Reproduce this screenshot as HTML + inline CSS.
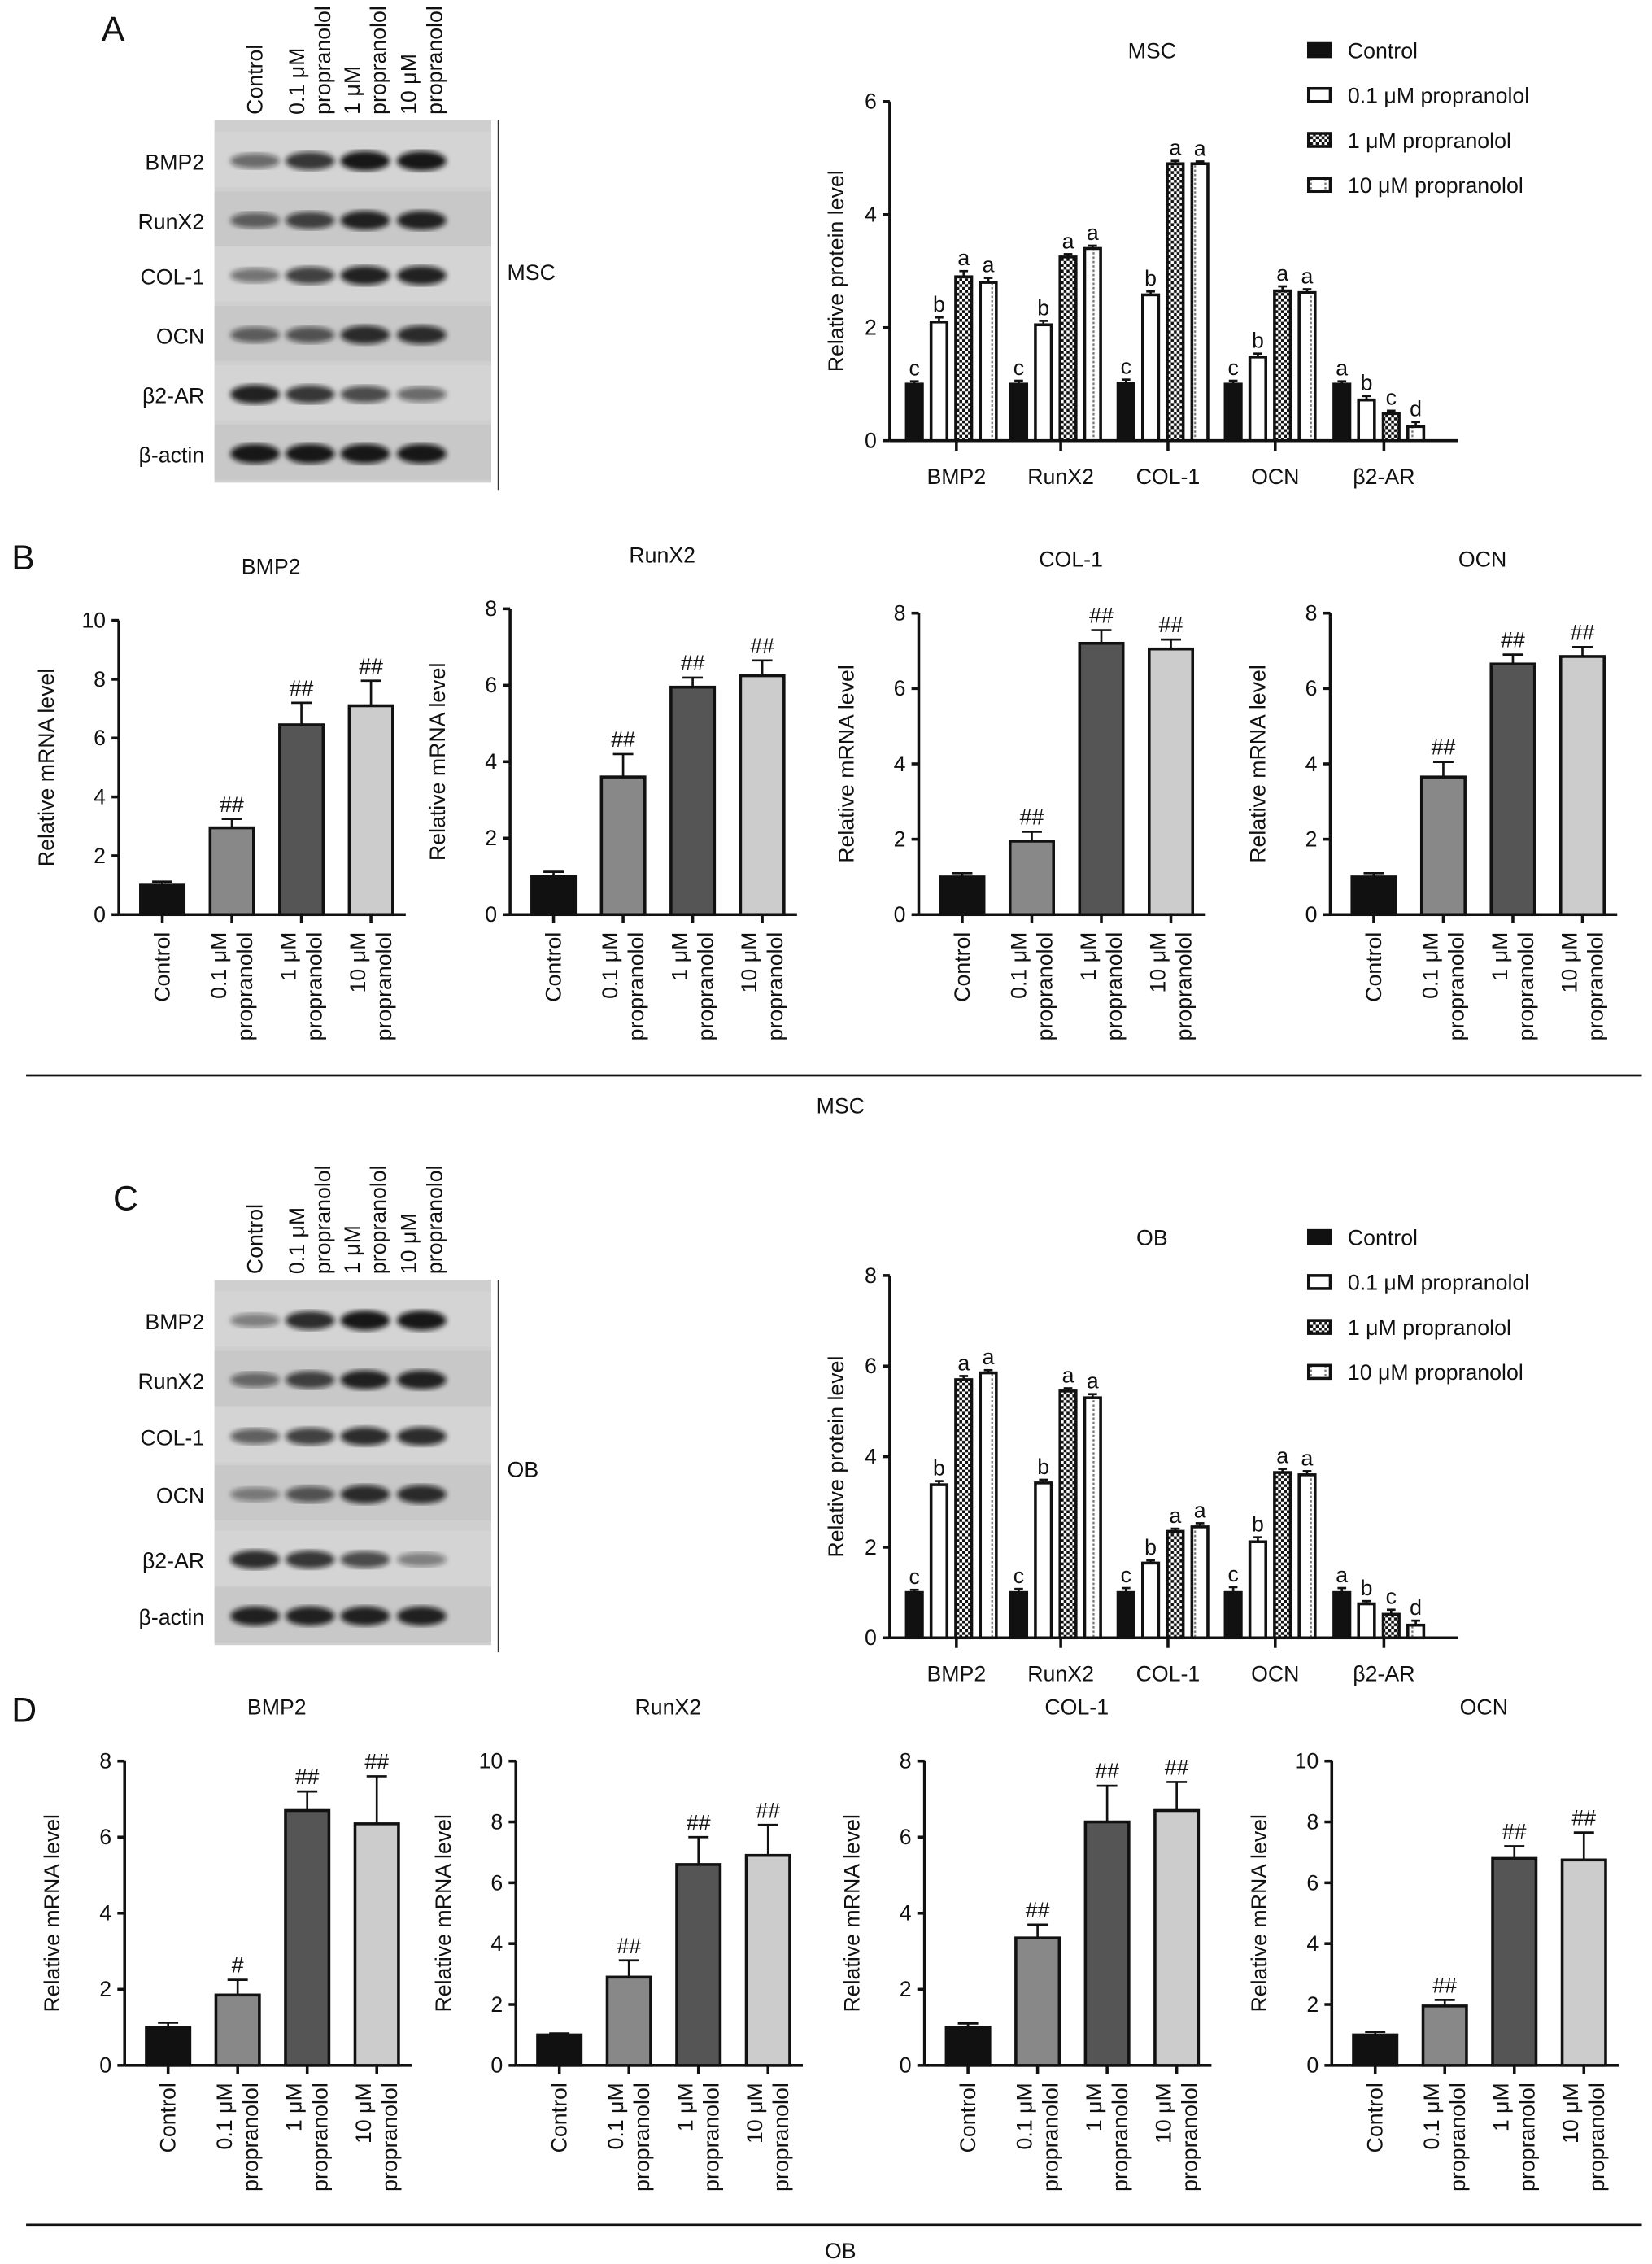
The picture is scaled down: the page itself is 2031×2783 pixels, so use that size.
<!DOCTYPE html>
<html><head><meta charset="utf-8"><style>
html,body{margin:0;padding:0;background:#fff}
svg{display:block;font-family:"Liberation Sans",Arial,sans-serif}
</style></head><body>
<svg id="fig" width="2031" height="2783" viewBox="0 0 1140 1562" xmlns="http://www.w3.org/2000/svg">
<defs>
<pattern id="chk" width="4" height="4" patternUnits="userSpaceOnUse"><rect width="4" height="4" fill="#111"/><rect width="2" height="2" fill="#fff"/><rect x="2" y="2" width="2" height="2" fill="#fff"/></pattern>
<pattern id="dot" width="10" height="3" patternUnits="userSpaceOnUse"><rect width="10" height="3" fill="#fff"/><rect x="4" y="0" width="1.3" height="1.5" fill="#777"/></pattern>
<filter id="blur"><feGaussianBlur stdDeviation="1.8"/></filter>
</defs>
<g id="root"></g>
</svg>
<script>
const NS="http://www.w3.org/2000/svg";
const groups=["BMP2","RunX2","COL-1","OCN","β2-AR"];
const conds=["Control","0.1 μM propranolol","1 μM propranolol","10 μM propranolol"];
const mscProtein=[[1,2.1,2.9,2.8],[1,2.05,3.25,3.4],[1.02,2.58,4.9,4.9],[1,1.48,2.65,2.62],[1,0.72,0.48,0.25]];
const mscProteinErr=[[0.05,0.08,0.1,0.08],[0.06,0.07,0.05,0.05],[0.06,0.06,0.05,0.04],[0.06,0.06,0.08,0.06],[0.05,0.07,0.05,0.08]];
const mscLetters=[["c","b","a","a"],["c","b","a","a"],["c","b","a","a"],["c","b","a","a"],["a","b","c","d"]];
const obProtein=[[1,3.38,5.7,5.85],[1,3.42,5.45,5.3],[1,1.65,2.35,2.45],[1,2.12,3.65,3.6],[1,0.75,0.52,0.28]];
const obProteinErr=[[0.06,0.08,0.08,0.06],[0.08,0.07,0.06,0.08],[0.1,0.06,0.06,0.08],[0.12,0.1,0.08,0.08],[0.1,0.06,0.1,0.1]];
const obLetters=[["c","b","a","a"],["c","b","a","a"],["c","b","a","a"],["c","b","a","a"],["a","b","c","d"]];
const mrnaGenes=["BMP2","RunX2","COL-1","OCN"];
const mscMrna=[[1,2.95,6.45,7.1],[1,3.6,5.95,6.25],[1,1.95,7.2,7.05],[1,3.65,6.65,6.85]];
const mscMrnaErr=[[0.12,0.3,0.75,0.85],[0.12,0.6,0.25,0.4],[0.1,0.25,0.35,0.25],[0.1,0.4,0.25,0.25]];
const mscMrnaMax=[10,8,8,8];
const mscSig=[["","##","##","##"],["","##","##","##"],["","##","##","##"],["","##","##","##"]];
const obMrna=[[1,1.85,6.7,6.35],[1,2.9,6.6,6.9],[1,3.35,6.4,6.7],[1,1.95,6.8,6.75]];
const obMrnaErr=[[0.12,0.4,0.5,1.25],[0.05,0.55,0.9,1.0],[0.1,0.35,0.95,0.75],[0.1,0.2,0.4,0.9]];
const obMrnaMax=[8,10,8,10];
const obSig=[["","#","##","##"],["","##","##","##"],["","##","##","##"],["","##","##","##"]];
const blotRows=["BMP2","RunX2","COL-1","OCN","β2-AR","β-actin"];
const mscBand=[[0.55,0.8,0.95,0.95],[0.6,0.75,0.9,0.9],[0.5,0.75,0.9,0.9],[0.6,0.65,0.85,0.85],[0.9,0.8,0.7,0.55],[0.95,0.95,0.95,0.95]];
const obBand=[[0.45,0.85,0.95,0.95],[0.55,0.75,0.9,0.9],[0.6,0.75,0.85,0.85],[0.45,0.65,0.85,0.85],[0.85,0.8,0.7,0.45],[0.9,0.9,0.9,0.9]];

const root=document.getElementById('root');
function el(tag,attrs,parent,txt){const e=document.createElementNS(NS,tag);for(const k in attrs)e.setAttribute(k,attrs[k]);if(txt!==undefined)e.textContent=txt;(parent||root).appendChild(e);return e;}
function txt(x,y,s,size,parent,anchor,rot){const a={x:x,y:y,'font-size':size,'text-anchor':anchor||'middle',fill:'#111'};if(rot)a.transform=`rotate(${rot} ${x} ${y})`;return el('text',a,parent,s);}

[["A",70,28],["B",8,393],["C",78,835],["D",8,1188]].forEach(p=>{const t=txt(p[1],p[2],p[0],24,root,'start');});

const fills=["#111","#fff","url(#chk)","url(#dot)"];
function proteinChart(name,title,x0,y0,yTop,maxV,vals,errs,letters,legY){
  const g=el('g',{},root);
  
  
  const y=v=>y0-(v/maxV)*(y0-yTop);
  const groupX=[660,732,806,880,955];
  const off=[-29,-12,5,22];
  el('line',{x1:x0,y1:yTop,x2:x0,y2:y0,stroke:'#111','stroke-width':2},g);
  el('line',{x1:x0,y1:y0,x2:1006,y2:y0,stroke:'#111','stroke-width':2},g);
  for(let v=0;v<=maxV;v+=2){el('line',{x1:x0-5,y1:y(v),x2:x0,y2:y(v),stroke:'#111','stroke-width':2},g);txt(x0-9,y(v)+5,String(v),15,g,'end');}
  const yl=txt(582,(y0+yTop)/2,"Relative protein level",15,g,'middle',-90);
  
  groups.forEach((gn,i)=>{
    el('line',{x1:groupX[i],y1:y0,x2:groupX[i],y2:y0+7,stroke:'#111','stroke-width':2},g);
    txt(groupX[i],y0+30,gn,15,g);
    vals[i].forEach((v,j)=>{
      const cx=groupX[i]+off[j];
      const r=el('rect',{x:cx-5.5,y:y(v),width:11,height:y0-y(v),fill:fills[j],stroke:'#111','stroke-width':2},g);
      
      
      const ey=y(v+errs[i][j]);
      el('line',{x1:cx,y1:y(v),x2:cx,y2:ey,stroke:'#111','stroke-width':1.5},g);
      el('line',{x1:cx-3,y1:ey,x2:cx+3,y2:ey,stroke:'#111','stroke-width':1.5},g);
      txt(cx,ey-4,letters[i][j],15,g);
    });
  });
  const tt=txt(795,legY-2,title,15,g);
  
  conds.forEach((c,j)=>{
    const ly=legY+j*31;
    const lr=el('rect',{x:903,y:ly-12,width:15,height:9,fill:fills[j],stroke:'#111','stroke-width':2},g);
    
    
    const lt=txt(930,ly-2,c,15,g,'start');
    
    
  });
}
proteinChart('msc-protein-chart','MSC',614,304,70,6,mscProtein,mscProteinErr,mscLetters,42);
proteinChart('ob-protein-chart','OB',614,1130,880,8,obProtein,obProteinErr,obLetters,861);

const mfills=["#111","#888","#555","#ccc"];
const xlab=[["Control"],["0.1 μM","propranolol"],["1 μM","propranolol"],["10 μM","propranolol"]];
function mrnaChart(name,title,x0,y0,yTop,maxV,vals,errs,sig){
  const g=el('g',{},root);
  
  
  const y=v=>y0-(v/maxV)*(y0-yTop);
  const bx=[x0+30,x0+78,x0+126,x0+174];
  el('line',{x1:x0,y1:yTop,x2:x0,y2:y0,stroke:'#111','stroke-width':2},g);
  el('line',{x1:x0,y1:y0,x2:x0+198,y2:y0,stroke:'#111','stroke-width':2},g);
  for(let v=0;v<=maxV;v+=2){el('line',{x1:x0-5,y1:y(v),x2:x0,y2:y(v),stroke:'#111','stroke-width':2},g);txt(x0-9,y(v)+5,String(v),15,g,'end');}
  const yl=txt(x0-45,(y0+yTop)/2,"Relative mRNA level",15,g,'middle',-90);
  
  const tt=txt(x0+105,yTop-32,title,15,g);
  
  vals.forEach((v,j)=>{
    const cx=bx[j];
    const r=el('rect',{x:cx-15,y:y(v),width:30,height:y0-y(v),fill:mfills[j],stroke:'#111','stroke-width':2},g);
    
    
    const ey=y(v+errs[j]);
    el('line',{x1:cx,y1:y(v),x2:cx,y2:ey,stroke:'#111','stroke-width':1.5},g);
    el('line',{x1:cx-7,y1:ey,x2:cx+7,y2:ey,stroke:'#111','stroke-width':1.5},g);
    if(sig[j])txt(cx,ey-5,sig[j],15,g);
    el('line',{x1:cx,y1:y0,x2:cx,y2:y0+6,stroke:'#111','stroke-width':2},g);
    xlab[j].forEach((s,k)=>{const lx=cx+5+(k-(xlab[j].length-1)/2)*18;txt(lx,y0+12,s,15,g,'end',-90);});
  });
}
const mscX=[82,352,634,918],mscTop=[428,420,423,423];
mrnaGenes.forEach((gn,i)=>mrnaChart('msc-mrna-'+gn,gn,mscX[i],631,mscTop[i],mscMrnaMax[i],mscMrna[i],mscMrnaErr[i],mscSig[i]));
const obX=[86,356,638,919];
mrnaGenes.forEach((gn,i)=>mrnaChart('ob-mrna-'+gn,gn,obX[i],1425,1215,obMrnaMax[i],obMrna[i],obMrnaErr[i],obSig[i]));

[[742,'MSC',768],[1535,'OB',1558]].forEach(a=>{
  const l=el('line',{x1:18,y1:a[0],x2:1133,y2:a[0],stroke:'#111','stroke-width':1.5});
  
  
  const t=txt(580,a[2],a[1],15);
  
  
});

function blot(name,label,yStart,rowH,rowYs,band,labelY){
  const g=el('g',{},root);
  
  
  const lanes=[176,214,252,291];
  const top=rowYs[0]-rowH/2-8,bot=rowYs[5]+rowH/2;
  el('rect',{x:148,y:top,width:191,height:bot-top,fill:'#cfcfcf'},g);
  rowYs.forEach((ry,i)=>{
    el('rect',{x:148,y:ry-rowH/2,width:191,height:rowH-2,fill:i%2?'#c8c8c8':'#d4d4d4'},g);
    txt(141,ry+6,blotRows[i],15,g,'end');
    band[i].forEach((b,j)=>{
      const e=el('ellipse',{cx:lanes[j],cy:ry,rx:17,ry:3+b*4,fill:'#111','fill-opacity':b,filter:'url(#blur)'},g);
      
    });
  });
  xlab.forEach((s,j)=>s.forEach((t,k)=>{const lx=lanes[j]+5+(k-(s.length-1)/2)*18;txt(lx,top-4,t,15,g,'start',-90);}));
  el('line',{x1:344,y1:top,x2:344,y2:bot+5,stroke:'#333','stroke-width':1.2},g);
  txt(350,labelY,label,15,g,'start');
}
blot('msc-western-blot','MSC',90,40,[111,152,190,231,272,313],mscBand,193);
blot('ob-western-blot','OB',890,40,[911,952,991,1031,1076,1115],obBand,1019);
</script>
</body></html>
